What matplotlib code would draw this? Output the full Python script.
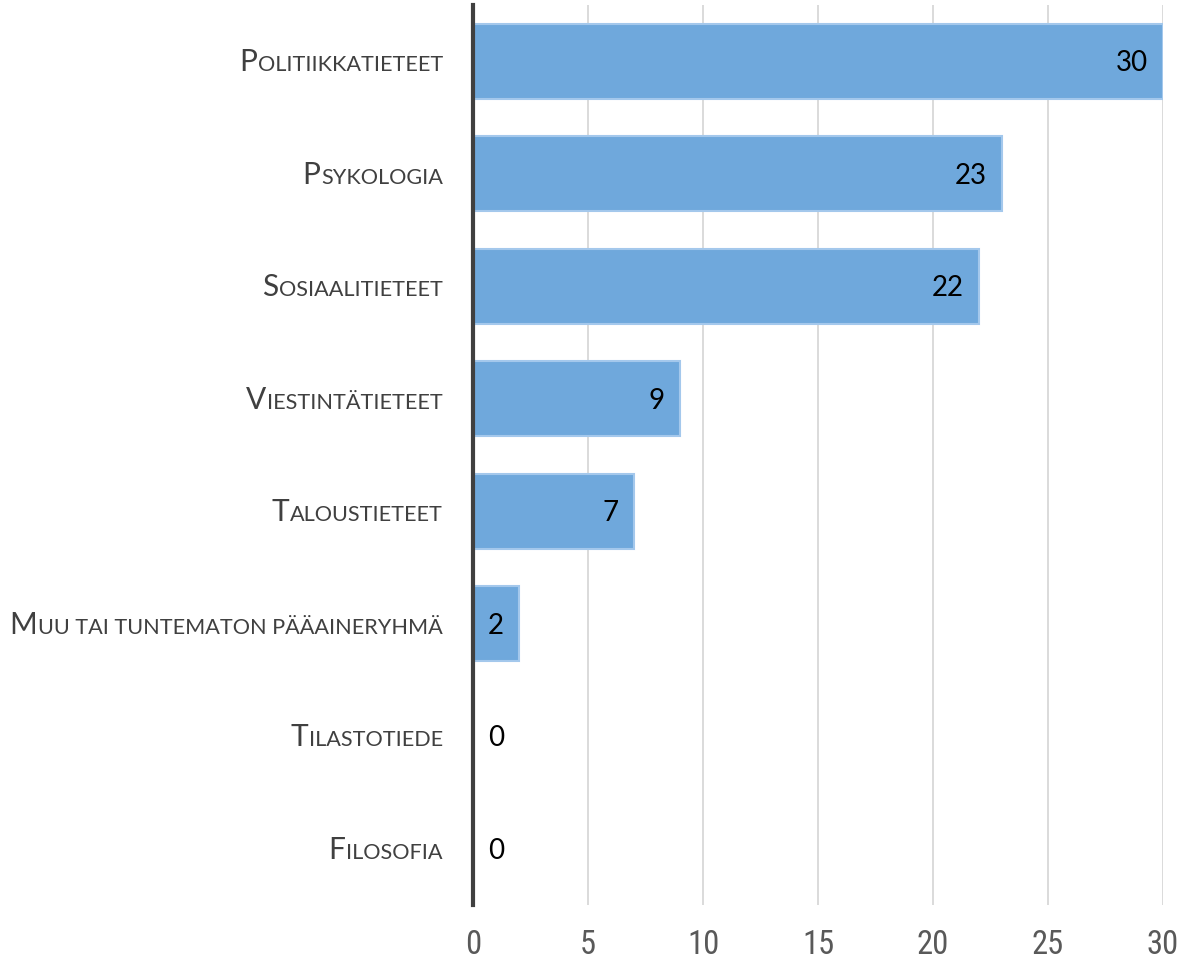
import matplotlib
matplotlib.use("Agg")
import matplotlib.pyplot as plt
from matplotlib import font_manager
from matplotlib.transforms import blended_transform_factory

categories = [
    "Politiikkatieteet",
    "Psykologia",
    "Sosiaalitieteet",
    "Viestintätieteet",
    "Taloustieteet",
    "Muu tai tuntematon pääaineryhmä",
    "Tilastotiede",
    "Filosofia",
]
counts = [30, 23, 22, 9, 7, 2, 0, 0]
xticks = [0, 5, 10, 15, 20, 25, 30]

available = {f.name for f in font_manager.fontManager.ttflist}
label_font = "Lato" if "Lato" in available else "DejaVu Sans"
tick_font = next((f for f in ["Liberation Sans Narrow", "Roboto Condensed", "Roboto"]
                  if f in available), "DejaVu Sans")

BAR = "#6fa8dc"
EDGE = "#a4c8ec"
TEXT_GREY = "#404040"

fig = plt.figure(figsize=(11.81, 9.6), dpi=100)
ax = fig.add_axes([0.4005, 0.0573, 0.5843, 0.9375])

ypos = list(range(len(categories)))
ax.barh(ypos, counts, height=0.67, color=BAR, edgecolor=EDGE, linewidth=1.5, zorder=3)

ax.set_xlim(0, 30)
ax.set_ylim(len(categories) - 0.5, -0.5)
ax.set_xticks(xticks)
ax.set_xticklabels([str(t) for t in xticks], family=tick_font, fontsize=23.5, color="#595959")
ax.tick_params(axis="x", length=0, pad=17)
ax.set_yticks([])
ax.grid(axis="x", color="#d4d4d4", lw=1.2, zorder=0)
for s in ("top", "right", "bottom"):
    ax.spines[s].set_visible(False)
ax.spines["left"].set_color(TEXT_GREY)
ax.spines["left"].set_linewidth(3)
ax.spines["left"].set_zorder(5)

# value labels inside the bar end (zero bars: just right of the axis)
for y, v in zip(ypos, counts):
    if v == 0:
        ax.annotate(str(v), (v, y), xytext=(15, -2), textcoords="offset pixels",
                    ha="left", va="center", fontsize=20, family=label_font, color="black", zorder=6)
    else:
        ax.annotate(str(v), (v, y), xytext=(-15, -2), textcoords="offset pixels",
                    ha="right", va="center", fontsize=20, family=label_font, color="black", zorder=6)

# small-caps category labels: big first letter + smaller uppercase rest
trans = blended_transform_factory(ax.transAxes, ax.transData)
fig.canvas.draw()
renderer = fig.canvas.get_renderer()
for y, lab in zip(ypos, categories):
    rest = ax.annotate(lab[1:].upper(), (0, y), xycoords=trans, xytext=(-30, -10),
                       textcoords="offset pixels", ha="right", va="baseline",
                       fontsize=15.6, family=label_font, color=TEXT_GREY)
    w = rest.get_window_extent(renderer).width
    ax.annotate(lab[0].upper(), (0, y), xycoords=trans, xytext=(-30 - w - 1, -10),
                textcoords="offset pixels", ha="right", va="baseline",
                fontsize=21.5, family=label_font, color=TEXT_GREY)

fig.savefig("out.png", dpi=100)
